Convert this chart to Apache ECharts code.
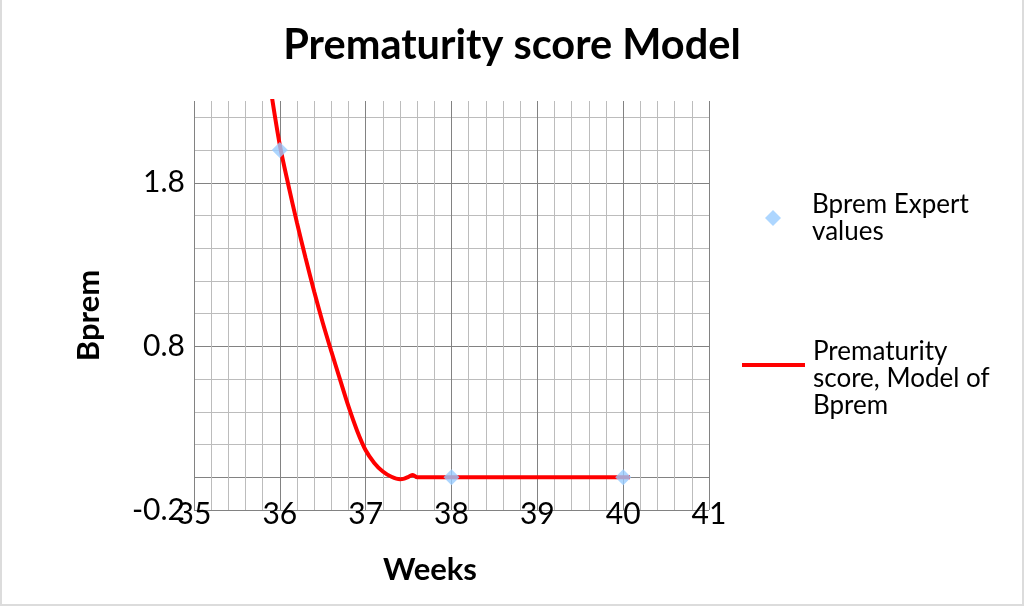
<!DOCTYPE html>
<html>
<head>
<meta charset="utf-8">
<script src="https://cdn.jsdelivr.net/npm/echarts@6/dist/echarts.min.js"></script>
<style>
html,body{margin:0;padding:0;background:#fff;}
#chart{width:1020px;height:604px;border-left:2px solid #dcdcdc;border-right:2px solid #dcdcdc;border-bottom:2px solid #dcdcdc;}
</style>
</head>
<body>
<div id="chart"></div>
<script>
// Model curve (Weeks -> Bprem)
const curveX = [35.9, 36.0, 36.1, 36.2, 36.3, 36.4, 36.5, 36.6, 36.7, 36.8, 36.9, 37.0, 37.1, 37.2, 37.3, 37.4, 37.45, 37.5, 37.55, 37.6, 38.0, 39.0, 40.0, 40.08];
const curveY = [2.35, 2.03, 1.785, 1.555, 1.34, 1.135, 0.945, 0.77, 0.60, 0.433, 0.285, 0.165, 0.088, 0.035, 0.003, -0.012, -0.008, 0.003, 0.014, 0.0, 0.0, 0.0, 0.0, 0.0];
// Expert values
const expertX = [36, 38, 40];
const expertY = [2.0, 0.0, 0.0];
// Axis labels
const xTickLabels = [35, 36, 37, 38, 39, 40, 41];
const yTickLabels = [-0.2, 0.8, 1.8];
const seriesNames = ['Bprem Expert values', 'Prematurity score, Model of Bprem'];
const legendText = {
  'Bprem Expert values': 'Bprem Expert\nvalues',
  'Prematurity score, Model of Bprem': '\nPrematurity\nscore, Model of\nBprem'
};

const DARK = '#828282', LIGHT = '#bcbcbc';
const near = (a, b) => Math.abs(a - b) < 1e-6;
const yMajor = [-0.2, 0.0, 0.8, 1.8];
const yColors = [];
for (let i = 0; i <= 13; i++) {
  const v = -0.2 + i * 0.2;
  yColors.push(yMajor.some(m => near(m, v)) ? DARK : LIGHT);
}

const chart = echarts.init(document.getElementById('chart'));
chart.setOption({
  animation: false,
  backgroundColor: '#fff',
  title: {
    text: 'Prematurity score Model',
    left: 'center',
    top: 20,
    padding: [5, 0, 5, 6],
    textStyle: {fontFamily: 'Lato', fontWeight: 'bold', fontSize: 41.5, color: '#000'}
  },
  grid: {left: 192, right: 313, top: 101, bottom: 94, containLabel: false},
  legend: [
    {
      data: [{name: seriesNames[0], icon: 'diamond'}],
      left: 763, top: 191, padding: 0,
      itemWidth: 16, itemHeight: 16,
      formatter: n => legendText[n],
      textStyle: {fontFamily: 'Lato', fontSize: 26, lineHeight: 27, color: '#000', padding: [0, 0, 0, 26]}
    },
    {
      data: [{name: seriesNames[1], icon: 'rect'}],
      left: 740, top: 311, padding: 0,
      itemWidth: 63, itemHeight: 4,
      formatter: n => legendText[n],
      textStyle: {fontFamily: 'Lato', fontSize: 26, lineHeight: 27, color: '#000', padding: [0, 0, 0, 3]}
    }
  ],
  xAxis: {
    type: 'value', min: 35, max: 41, interval: 0.2,
    name: 'Weeks', nameLocation: 'middle', nameGap: 44,
    nameTextStyle: {fontFamily: 'Lato', fontWeight: 'bold', fontSize: 31, color: '#000', padding: [0, 43, 0, 0]},
    axisLine: {show: false}, axisTick: {show: false},
    axisLabel: {
      fontFamily: 'Lato', fontSize: 30, color: '#000', margin: -11,
      formatter: v => xTickLabels.some(t => near(t, v)) ? String(Math.round(v)) : ''
    },
    splitLine: {show: true, lineStyle: {color: [DARK, LIGHT, LIGHT, LIGHT, LIGHT], width: 1}}
  },
  yAxis: {
    type: 'value', min: -0.2, max: 2.3, interval: 0.2,
    name: 'Bprem', nameLocation: 'middle', nameGap: 90,
    nameTextStyle: {fontFamily: 'Lato', fontWeight: 'bold', fontSize: 31, color: '#000', padding: [0, 20, 0, 0]},
    axisLine: {show: false}, axisTick: {show: false},
    axisLabel: {
      fontFamily: 'Lato', fontSize: 30, color: '#000', margin: 9,
      formatter: v => {
        const t = yTickLabels.find(t => near(t, v));
        return t === undefined ? '' : String(t);
      }
    },
    splitLine: {show: true, showMaxLine: false, lineStyle: {color: yColors, width: 1}}
  },
  series: [
    {
      name: seriesNames[1], type: 'line',
      data: curveX.map((x, i) => [x, curveY[i]]),
      smooth: 0.3, showSymbol: false, symbol: 'none',
      lineStyle: {color: '#ff0000', width: 4}, itemStyle: {color: '#ff0000'},
      clip: true, z: 2
    },
    {
      name: seriesNames[0], type: 'scatter',
      data: expertX.map((x, i) => [x, expertY[i]]),
      symbol: 'diamond', symbolSize: 16,
      itemStyle: {color: '#99ccff'}, z: 3
    }
  ]
});
</script>
</body>
</html>
